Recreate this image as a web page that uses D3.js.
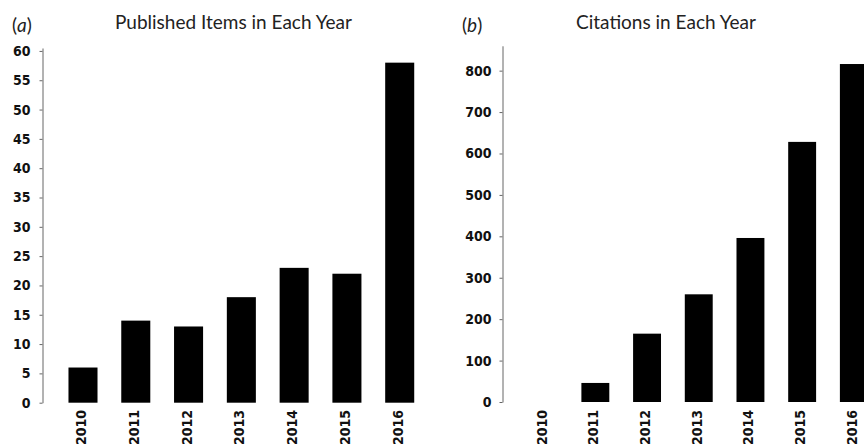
<!DOCTYPE html>
<html>
<head>
<meta charset="utf-8">
<script src="https://cdn.jsdelivr.net/npm/d3@7"></script>
<style>
  body { margin: 0; background: #fff; }
  .tick text, text.year { font-family: "DejaVu Sans Condensed", "DejaVu Sans", sans-serif; font-weight: bold; font-size: 14px; fill: #111; }
  .title { font-family: Lato, "Open Sans", sans-serif; font-size: 19px; fill: #222; }
</style>
</head>
<body>
<svg id="chart" width="864" height="447"></svg>
<script>
// data
var years = ["2010", "2011", "2012", "2013", "2014", "2015", "2016"];
var published = [6, 14, 13, 18, 23, 22, 58];
var citations = [0, 46, 165, 260, 396, 628, 816];
var publishedTicks = [0, 5, 10, 15, 20, 25, 30, 35, 40, 45, 50, 55, 60];
var citationTicks = [0, 100, 200, 300, 400, 500, 600, 700, 800];

var svg = d3.select("#chart");

function panel(opts){
    var g = svg.append("g");

    var x = d3.scaleBand()
        .domain(years)
        .range(opts.xr)
        .paddingInner(opts.pi)
        .paddingOuter(opts.pi / 2);

    var y = d3.scaleLinear()
        .domain(opts.yd)
        .range(opts.yr);

    // bars
    g.selectAll("rect")
        .data(opts.values)
        .enter()
        .append("rect")
        .attr("x", function(d, i){ return x(years[i]); })
        .attr("width", x.bandwidth())
        .attr("y", function(d){ return y(d); })
        .attr("height", function(d){ return y(0) - y(d); })
        .attr("fill", "#000");

    // y axis
    var yAxis = d3.axisLeft(y)
        .tickValues(opts.ticks)
        .tickSize(3)
        .tickSizeOuter(0)
        .tickPadding(opts.tp);
    var ya = g.append("g")
        .attr("transform", "translate(" + opts.ax + ",0)")
        .call(yAxis);
    ya.attr("font-family", null).attr("font-size", null);
    ya.select(".domain").attr("stroke", "#666");
    ya.selectAll(".tick line").attr("stroke", "#666");

    // year labels, rotated
    g.selectAll("text.year")
        .data(years)
        .enter()
        .append("text")
        .attr("class", "year")
        .attr("text-anchor", "end")
        .attr("dy", "0.36em")
        .attr("transform", function(d){
            return "translate(" + (x(d) + x.bandwidth() / 2 - 2) + ",410) rotate(-90)";
        })
        .text(function(d){ return d; });

    // panel letter and title
    var lab = g.append("text")
        .attr("class", "title")
        .attr("x", opts.lx)
        .attr("y", 32);
    lab.append("tspan").text("(");
    lab.append("tspan").style("font-style", "italic").text(opts.letter);
    lab.append("tspan").text(")");

    g.append("text")
        .attr("class", "title")
        .attr("x", opts.tx)
        .attr("y", 29)
        .text(opts.title);
}

panel({
    values: published, ticks: publishedTicks,
    xr: [56.6, 426.1], pi: 0.45,
    yd: [0, 60.5], yr: [402.7, 48],
    ax: 42.5, tp: 9,
    letter: "a", lx: 12, title: "Published Items in Each Year", tx: 115
});

panel({
    values: citations, ticks: citationTicks,
    xr: [517.8, 879.7], pi: 0.46,
    yd: [0, 860], yr: [402, 45.8],
    ax: 502.5, tp: 8,
    letter: "b", lx: 462, title: "Citations in Each Year", tx: 576
});
</script>
</body>
</html>
